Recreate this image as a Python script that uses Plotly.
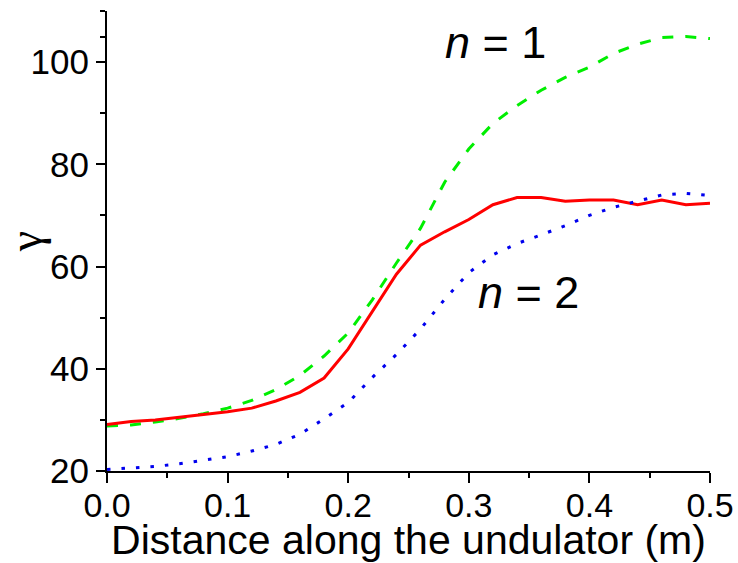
import plotly.graph_objects as go

x = [0.00, 0.02, 0.04, 0.06, 0.08, 0.10, 0.12, 0.14, 0.16, 0.18, 0.20, 0.22, 0.24,
     0.26, 0.28, 0.30, 0.32, 0.34, 0.36, 0.38, 0.40, 0.42, 0.44, 0.46, 0.48, 0.50]

gamma_red = [29.1, 29.7, 30.0, 30.5, 31.0, 31.6, 32.3, 33.7, 35.4, 38.2, 43.9, 51.2, 58.5,
             64.2, 66.8, 69.2, 72.1, 73.5, 73.5, 72.8, 73.0, 73.0, 72.1, 73.0, 72.1, 72.4]

gamma_n1 = [28.8, 29.0, 29.6, 30.3, 31.2, 32.3, 33.8, 35.9, 38.7, 42.5, 47.0, 53.5, 60.7,
            67.5, 76.5, 83.0, 88.0, 91.5, 94.5, 97.0, 99.0, 101.7, 103.5, 104.8, 105.0, 104.6]

gamma_n2 = [20.3, 20.6, 20.9, 21.4, 22.1, 22.8, 23.9, 25.2, 27.2, 30.2, 33.4, 38.3, 42.8,
            47.8, 53.6, 58.8, 62.3, 64.5, 66.2, 68.0, 70.0, 71.6, 72.8, 74.0, 74.3, 73.9]

x_ticks = [0.0, 0.1, 0.2, 0.3, 0.4, 0.5]
x_tick_text = ["0.0", "0.1", "0.2", "0.3", "0.4", "0.5"]
y_ticks = [20, 40, 60, 80, 100]
y_tick_text = ["20", "40", "60", "80", "100"]

FONT = "Liberation Sans, Arial, sans-serif"

fig = go.Figure()
fig.add_trace(go.Scatter(x=x, y=gamma_n1, mode="lines",
                         line=dict(color="#00ee00", width=3, dash="11px,12px")))
fig.add_trace(go.Scatter(x=x, y=gamma_red, mode="lines",
                         line=dict(color="#ff0000", width=3)))
fig.add_trace(go.Scatter(x=x, y=gamma_n2, mode="lines",
                         line=dict(color="#0000ee", width=3, dash="3.5px,11px")))

fig.update_layout(
    width=738, height=563,
    margin=dict(l=107, r=28, t=11, b=92),
    paper_bgcolor="white", plot_bgcolor="white",
    showlegend=False,
    font=dict(family=FONT, color="black"),
    xaxis=dict(
        range=[0, 0.5], showgrid=False, zeroline=False, automargin=False,
        showline=True, linecolor="black", linewidth=2,
        ticks="outside", ticklen=10, tickwidth=2, tickcolor="black",
        tickvals=x_ticks, ticktext=x_tick_text, ticklabelstandoff=-7,
        tickfont=dict(size=34, family=FONT),
        minor=dict(tickvals=[0.05, 0.15, 0.25, 0.35, 0.45], ticks="outside",
                   ticklen=5, tickwidth=2, tickcolor="black"),
        title=dict(text="Distance along the undulator (m)",
                   font=dict(size=41, family=FONT), standoff=0),
    ),
    yaxis=dict(
        range=[20, 110], showgrid=False, zeroline=False, automargin=False,
        showline=True, linecolor="black", linewidth=2,
        ticks="outside", ticklen=9, tickwidth=2, tickcolor="black",
        tickvals=y_ticks, ticktext=y_tick_text,
        tickfont=dict(size=35, family=FONT),
        minor=dict(tickvals=[30, 50, 70, 90, 105, 110], ticks="outside",
                   ticklen=5, tickwidth=2, tickcolor="black"),
        title=dict(text="γ", font=dict(size=46, family="Liberation Serif, serif"),
                   standoff=0),
    ),
    annotations=[
        dict(x=0.3225, y=103.9, xref="x", yref="y", text="<i>n</i> = 1",
             showarrow=False, font=dict(size=45, family=FONT, color="black"),
             xanchor="center", yanchor="middle"),
        dict(x=0.3498, y=55.0, xref="x", yref="y", text="<i>n</i> = 2",
             showarrow=False, font=dict(size=45, family=FONT, color="black"),
             xanchor="center", yanchor="middle"),
    ],
)

fig.write_html("out.html")
